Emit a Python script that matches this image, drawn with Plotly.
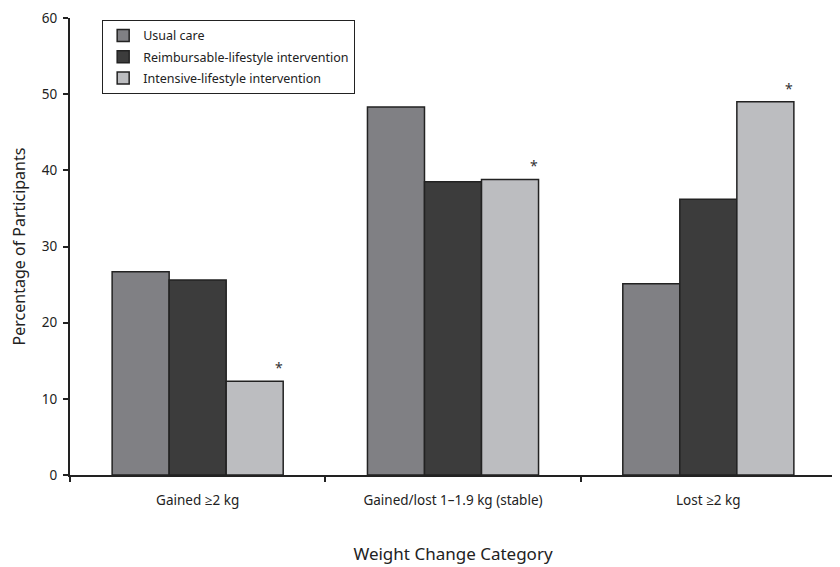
import plotly.graph_objects as go

categories = ["Gained ≥2 kg", "Gained/lost 1–1.9 kg (stable)", "Lost ≥2 kg"]
series_names = ["Usual care", "Reimbursable-lifestyle intervention", "Intensive-lifestyle intervention"]
usual_care = [26.7, 48.3, 25.1]
reimbursable = [25.6, 38.5, 36.2]
intensive = [12.3, 38.8, 49.0]
significant = ["*", "*", "*"]
y_ticks = [0, 10, 20, 30, 40, 50, 60]

colors = ["#808084", "#3c3c3c", "#bcbdc0"]
FONT = "Noto Sans, Open Sans, sans-serif"

fig = go.Figure()
for i, (name, vals, col) in enumerate(zip(series_names, [usual_care, reimbursable, intensive], colors)):
    fig.add_trace(go.Bar(
        x=categories, y=vals, name=name, legendgroup=f"g{i}",
        marker=dict(color=col, line=dict(color="#222222", width=1.5)),
    ))

for cat, v, s in zip(categories, intensive, significant):
    fig.add_annotation(x=cat, y=v, text=s, showarrow=False, xref="x", yref="y",
                       xanchor="center", yanchor="bottom", xshift=81, yshift=2,
                       font=dict(size=14, color="#333333", family=FONT))

fig.update_layout(
    width=840, height=567,
    margin=dict(l=62, r=12, t=10, b=100, autoexpand=False),
    paper_bgcolor="white", plot_bgcolor="white",
    barmode="group", bargap=0.33, bargroupgap=0,
    font=dict(family=FONT, size=13, color="#222222"),
    legend=dict(x=0.042, y=0.996, xanchor="left", yanchor="top",
                bordercolor="#222222", borderwidth=1, bgcolor="white",
                font=dict(size=12.5, family=FONT, color="#222222"),
                tracegroupgap=2, itemwidth=30),
    showlegend=True,
)
fig.update_xaxes(
    automargin=False,
    showline=True, linecolor="#222222", linewidth=2,
    ticks="outside", tickson="boundaries", ticklen=5, tickwidth=2, tickcolor="#222222",
    tickfont=dict(size=13.5, family=FONT), ticklabelstandoff=12,
    title=dict(text="Weight Change Category", font=dict(size=17, family=FONT), standoff=40),
    showgrid=False,
)
fig.update_yaxes(
    automargin=False,
    range=[0, 60], tickvals=y_ticks, showline=True, linecolor="#222222", linewidth=2,
    ticks="outside", ticklen=5, tickwidth=2, tickcolor="#222222",
    tickfont=dict(size=13.5, family=FONT), ticklabelstandoff=3, ticklabeloverflow="allow",
    title=dict(text="Percentage of Participants", font=dict(size=16, family=FONT), standoff=12),
    showgrid=False, zeroline=False,
)

fig.write_html("out.html")
